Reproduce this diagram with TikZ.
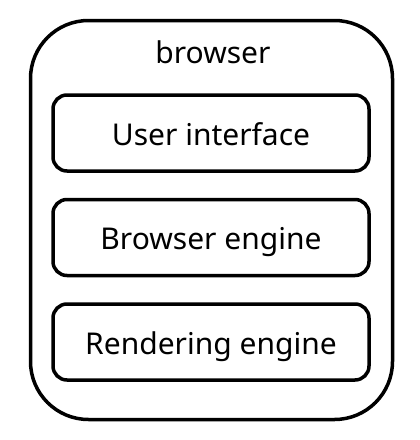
\documentclass[tikz,border=0pt]{standalone}
\usepackage{fontspec}
\setmainfont{Noto Sans}
\usetikzlibrary{positioning}

\tikzset{
	outerbox/.style={draw, line width=3.5pt, rounded corners=58pt, minimum width=362pt, minimum height=399pt, inner sep=0pt},
	partbox/.style={draw, line width=3.5pt, rounded corners=14pt, minimum width=316pt, minimum height=76pt, inner sep=0pt, text height=24pt, text depth=0pt, font=\fontsize{30}{36}\selectfont},
}

\begin{document}
\begin{tikzpicture}[x=1pt, y=-1pt]

\useasboundingbox (0,0) rectangle (420,440);

\node[outerbox] (browser) at (211.5,220) {};
\node[font=\fontsize{30}{36}\selectfont, anchor=base] (title) at (213,63) {browser};

\node[partbox] (ui) at (211,133) {User interface};
\node[partbox, below=25pt of ui] (be) {Browser engine};
\node[partbox, below=25pt of be] (re) {Rendering engine};

\end{tikzpicture}
\end{document}
